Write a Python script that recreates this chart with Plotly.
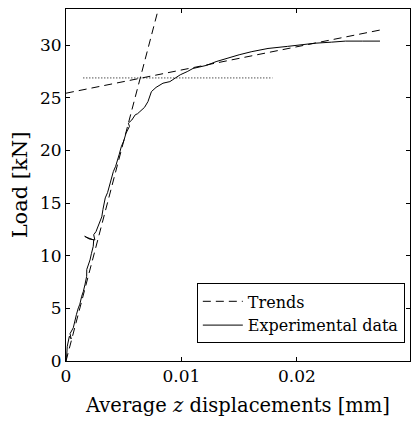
import plotly.graph_objects as go

# Experimental data (displacement mm, load kN)
exp_x = [0.0, 0.00005, 0.00011, 0.0002, 0.00029, 0.00045, 0.00035, 0.00063, 0.0007, 0.00078,
         0.0009, 0.00107, 0.0012, 0.00136, 0.0015, 0.00165, 0.00179, 0.0018, 0.00195, 0.00208,
         0.0022, 0.00236, 0.0024, 0.0021, 0.0018, 0.00162, 0.002, 0.0025, 0.0024, 0.0026,
         0.0028, 0.0031, 0.0032, 0.0034, 0.0036, 0.0038, 0.0039, 0.0041, 0.0043, 0.0045,
         0.0046, 0.0048, 0.0050, 0.0052, 0.0053, 0.0055, 0.0054, 0.0057, 0.0060, 0.0062,
         0.0064, 0.0068, 0.0071, 0.0073, 0.0074, 0.0078, 0.0084, 0.0090, 0.0095, 0.0099,
         0.0105, 0.0110, 0.0116, 0.0122, 0.0130, 0.0140, 0.0150, 0.0161, 0.0175, 0.0192,
         0.0205, 0.0216, 0.0230, 0.0242, 0.0257, 0.0272]
exp_y = [0.0, 0.35, 1.4, 1.9, 2.35, 2.1, 2.6, 3.15, 3.5, 3.95,
         4.4, 5.05, 5.4, 6.15, 6.6, 7.3, 8.05, 8.7, 9.1, 9.6,
         10.2, 10.9, 11.5, 11.6, 11.75, 11.85, 11.6, 11.5, 12.0, 12.3,
         12.9, 13.7, 14.4, 15.5, 16.0, 16.9, 17.3, 18.0, 18.5, 19.1,
         19.6, 20.4, 20.9, 21.65, 21.9, 22.3, 22.6, 22.9, 23.4, 23.5,
         23.7, 24.1, 24.65, 25.2, 25.6, 26.0, 26.4, 26.55, 26.9, 27.2,
         27.5, 27.8, 27.95, 28.1, 28.45, 28.8, 29.1, 29.4, 29.7, 29.9,
         30.1, 30.2, 30.3, 30.4, 30.4, 30.4]

# Trend lines
trend1_x = [0.0, 0.0080]
trend1_y = [0.0, 33.45]
trend2_x = [0.0, 0.0272]
trend2_y = [25.45, 31.45]
yield_x = [0.0015, 0.0179]
yield_y = [26.9, 26.9]

fig = go.Figure()
fig.add_trace(go.Scatter(x=trend1_x, y=trend1_y, mode="lines", name="Trends",
                         line=dict(color="black", width=1, dash="8px,5px")))
fig.add_trace(go.Scatter(x=trend2_x, y=trend2_y, mode="lines", showlegend=False,
                         line=dict(color="black", width=1, dash="8px,5px")))
fig.add_trace(go.Scatter(x=yield_x, y=yield_y, mode="lines", showlegend=False,
                         line=dict(color="black", width=1, dash="1px,2px")))
fig.add_trace(go.Scatter(x=exp_x, y=exp_y, mode="lines", name="Experimental data",
                         line=dict(color="black", width=1)))

font = "DejaVu Serif"
fig.update_layout(
    width=411, height=423,
    margin=dict(l=66, r=1, t=9, b=62),
    plot_bgcolor="white", paper_bgcolor="white",
    font=dict(family=font, size=17, color="black"),
    showlegend=True,
    legend=dict(x=0.985, y=0.05, xanchor="right", yanchor="bottom",
                bordercolor="black", borderwidth=1, bgcolor="white",
                font=dict(family=font, size=16), tracegroupgap=0,
                itemwidth=40),
    xaxis=dict(range=[0, 0.0298], tickvals=[0, 0.01, 0.02], ticktext=["0", "0.01", "0.02"],
               ticks="inside", ticklen=4, tickcolor="black", showgrid=False, zeroline=False,
               showline=True, linecolor="black", linewidth=1, mirror="ticks",
               title=dict(text="Average <i>z</i> displacements [mm]", font=dict(size=19.5), standoff=12)),
    yaxis=dict(range=[0, 33.45], tickvals=[0, 5, 10, 15, 20, 25, 30],
               ticks="inside", ticklen=4, tickcolor="black", showgrid=False, zeroline=False,
               showline=True, linecolor="black", linewidth=1, mirror="ticks",
               title=dict(text="Load [kN]", font=dict(size=21), standoff=6)),
)

fig.write_html("out.html")
